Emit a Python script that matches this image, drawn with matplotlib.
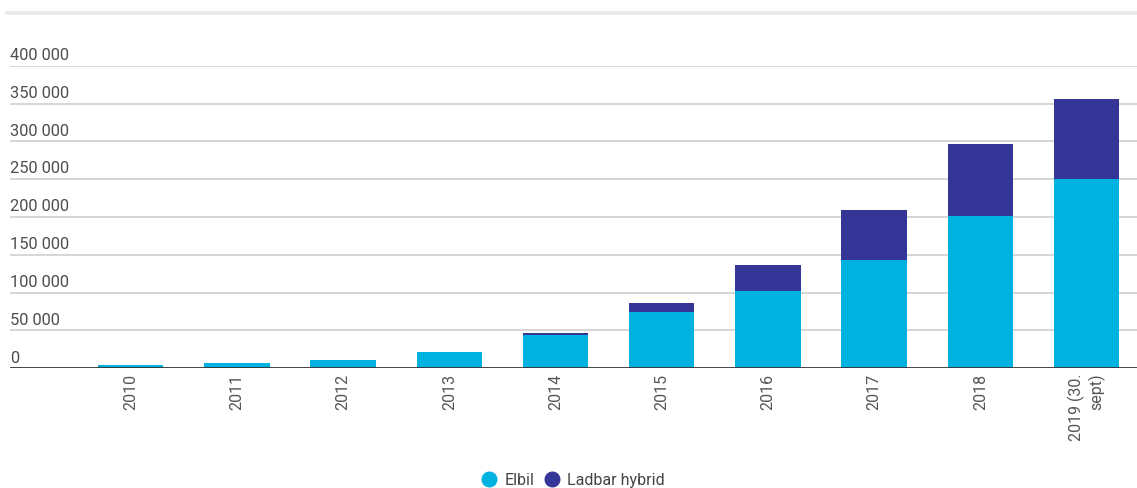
import matplotlib
matplotlib.use("Agg")
import matplotlib.pyplot as plt
from matplotlib.lines import Line2D
from matplotlib.transforms import offset_copy

plt.rcParams["font.family"] = ["Roboto", "DejaVu Sans"]

# Vehicle stock per year
years = ["2010", "2011", "2012", "2013", "2014", "2015", "2016", "2017", "2018",
         "2019 (30.\nsept)"]
elbil = [4000, 7000, 10600, 21100, 44200, 74400, 102000, 143200, 201300, 249600]
ladbar_hybrid = [0, 0, 0, 0, 2100, 11600, 34000, 66100, 95200, 106400]
series_names = ["Elbil", "Ladbar hybrid"]
y_ticks = [0, 50000, 100000, 150000, 200000, 250000, 300000, 350000, 400000]

c_elbil = "#00b2e0"
c_hybrid = "#353598"
grid_c = "#d6d6d6"
text_c = "#555555"

W, H, DPI = 1137, 488, 100
fig = plt.figure(figsize=(W / DPI, H / DPI), dpi=DPI)

left, right = 10 / W, 1.0
bottom, top = 1 - 368.3 / H, 1 - 65.7 / H
ax = fig.add_axes([left, bottom, right - left, top - bottom])

x = list(range(len(years)))
ax.bar(x, elbil, width=0.615, color=c_elbil, zorder=2)
ax.bar(x, ladbar_hybrid, width=0.615, bottom=elbil, color=c_hybrid, zorder=2)

ax.set_xlim(-1.137, len(years) - 1 + 0.476)
ax.set_ylim(0, 400000)

# Horizontal grid lines with labels sitting above them
for v in y_ticks:
    if v == 0:
        ax.axhline(v, color="#333333", lw=2.0, zorder=3)
    else:
        ax.axhline(v, color=grid_c, lw=1.4, zorder=1)
    lbl = f"{v:,}".replace(",", " ")
    tr = offset_copy(ax.get_yaxis_transform(), fig=fig, x=0, y=2, units="points")
    ax.text(0.0, v, lbl, transform=tr, ha="left", va="bottom",
            fontsize=11.8, color="#4d4d4d")

ax.set_yticks([])
ax.set_xticks(x)
ax.set_xticklabels(years, rotation=90, ha="center", va="top",
                   multialignment="right", fontsize=11.5, color=text_c)
ax.tick_params(axis="x", length=0, pad=4)
for s in ax.spines.values():
    s.set_visible(False)

# Grey band at the top
fig.add_artist(plt.Rectangle((5 / W, 1 - 15 / H), 1 - 5 / W, 4 / H,
                             transform=fig.transFigure, color="#ebebeb", lw=0))

handles = [Line2D([], [], marker="o", ls="", markersize=10.5, color=c_elbil),
           Line2D([], [], marker="o", ls="", markersize=10.5, color=c_hybrid)]
leg = fig.legend(handles, series_names, loc="center", ncol=2,
                 bbox_to_anchor=(0.503, 0.016), frameon=False, fontsize=11.5,
                 handletextpad=0.35, columnspacing=0.5, handlelength=1.2,
                 labelcolor="#444444")

fig.savefig("out.png", dpi=DPI)
